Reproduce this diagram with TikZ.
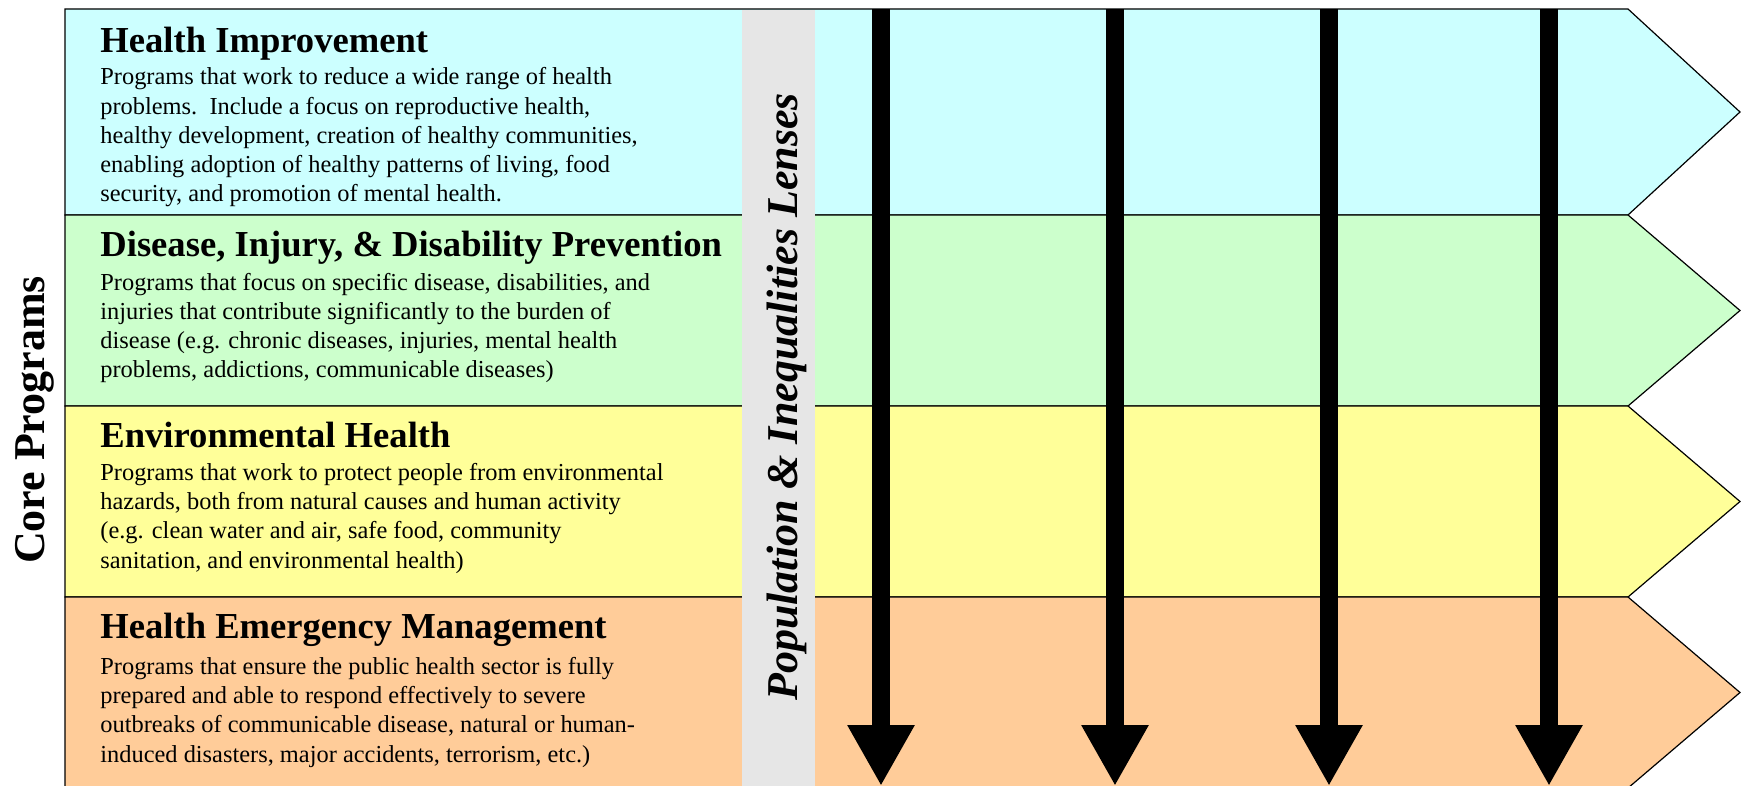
\documentclass[tikz,border=0pt]{standalone}
\usepackage{fontspec}
\setmainfont{Liberation Serif}
\usetikzlibrary{arrows.meta}
\definecolor{improve}{HTML}{CCFFFF}
\definecolor{prevent}{HTML}{CCFFCC}
\definecolor{environ}{HTML}{FFFF99}
\definecolor{emergency}{HTML}{FFCC99}
\definecolor{lensgray}{HTML}{E6E6E6}
\tikzstyle{band} = [draw=black, line width=0.6pt]
\tikzstyle{heading} = [anchor=base west, inner sep=0pt,
    font=\fontsize{18.3}{21}\selectfont\bfseries]
% multi-line body: anchored at the baseline of its last line
\tikzstyle{body} = [anchor=base west, inner sep=0pt, align=left,
    font=\fontsize{12.2}{14.65}\selectfont]
\tikzstyle{sidelabel} = [rotate=90, anchor=base, inner sep=0pt,
    font=\fontsize{22}{26}\selectfont\bfseries]
\tikzstyle{lens} = [line width=9pt, line cap=butt,
    -{Triangle[length=30.5pt,width=31.5pt]}]

\begin{document}
\begin{tikzpicture}[x=0.5pt,y=-0.5pt]
\useasboundingbox (0,0) rectangle (1747,786);

% program bands
\filldraw[band, fill=improve] (65,9) -- (1628,9) -- (1740,112) -- (1628,215) -- (65,215) -- cycle;
\filldraw[band, fill=prevent] (65,215) -- (1628,215) -- (1740,310.5) -- (1628,406) -- (65,406) -- cycle;
\filldraw[band, fill=environ] (65,406) -- (1628,406) -- (1740,501.5) -- (1628,597) -- (65,597) -- cycle;
\filldraw[band, fill=emergency] (65,597) -- (1628,597) -- (1740,692.5) -- (1628,788) -- (65,788) -- cycle;

% lens strip
\fill[lensgray] (742,10) rectangle (815,788);
\node[sidelabel, font=\fontsize{22}{26}\selectfont\bfseries\itshape] (lenslabel) at (797,397) {Population \& Inequalities Lenses};
\node[sidelabel] (core) at (45,420) {Core Programs};

% lens arrows
\coordinate (lens1) at (881,9);
\coordinate (lens2) at (1115,9);
\coordinate (lens3) at (1329,9);
\coordinate (lens4) at (1549,9);
\coordinate (end1) at (881,786);
\coordinate (end2) at (1115,786);
\coordinate (end3) at (1329,786);
\coordinate (end4) at (1549,786);
\draw[lens] (lens1) -- (end1);
\draw[lens] (lens2) -- (end2);
\draw[lens] (lens3) -- (end3);
\draw[lens] (lens4) -- (end4);

% texts
\node[heading] (improvehead) at (100,53) {Health Improvement};
\node[body] (improvetext) at (100,202) {Programs that work to reduce a wide range of health\\
problems.\ \ Include a focus on reproductive health,\\
healthy development, creation of healthy communities,\\
enabling adoption of healthy patterns of living, food\\
security, and promotion of mental health.};

\node[heading] (preventhead) at (100,257) {Disease, Injury, \& Disability Prevention};
\node[body] (preventtext) at (100,378) {Programs that focus on specific disease, disabilities, and\\
injuries that contribute significantly to the burden of\\
disease (e.g. chronic diseases, injuries, mental health\\
problems, addictions, communicable diseases)};

\node[heading] (environhead) at (100,447) {Environmental Health};
\node[body] (environtext) at (100,568) {Programs that work to protect people from environmental\\
hazards, both from natural causes and human activity\\
(e.g. clean water and air, safe food, community\\
sanitation, and environmental health)};

\node[heading] (emergencyhead) at (100,638) {Health Emergency Management};
\node[body] (emergencytext) at (100,762) {Programs that ensure the public health sector is fully\\
prepared and able to respond effectively to severe\\
outbreaks of communicable disease, natural or human-\\
induced disasters, major accidents, terrorism, etc.)};

\end{tikzpicture}
\end{document}
